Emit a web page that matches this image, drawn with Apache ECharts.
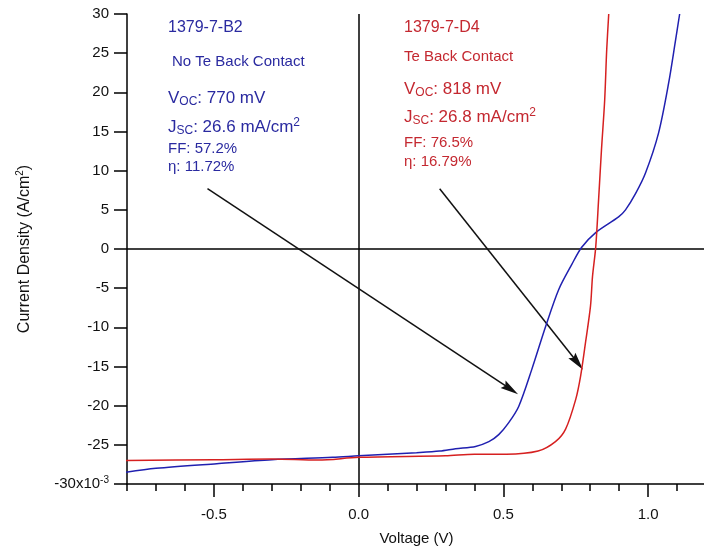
<!DOCTYPE html>
<html><head><meta charset="utf-8">
<script src="https://cdn.jsdelivr.net/npm/echarts@6/dist/echarts.min.js"></script>
<style>html,body{margin:0;padding:0;background:#fff}#c{width:704px;height:548px}</style>
</head><body><div id="c"></div>
<script>
// Voltage (V) and current density (x10^-3 A/cm^2)
const blueV = [-0.805,-0.70,-0.49,-0.30,-0.09,0.00,0.20,0.28,0.335,0.404,0.45,0.484,0.518,0.553,0.598,0.646,0.691,0.736,0.770,0.819,0.898,0.922,0.957,0.991,1.036,1.071,1.095,1.109];
const blueJ = [-28.5,-28.0,-27.4,-26.9,-26.6,-26.4,-26.0,-25.8,-25.5,-25.2,-24.6,-23.7,-22.2,-20.1,-15.4,-9.9,-5.2,-2.0,0.2,2.1,4.1,5.0,7.1,9.7,14.8,21.2,26.7,30];
const redV = [-0.805,-0.50,-0.30,-0.14,0.00,0.30,0.40,0.51,0.62,0.68,0.715,0.75,0.767,0.784,0.801,0.808,0.819,0.829,0.839,0.850,0.857,0.864];
const redJ = [-27.0,-26.9,-26.8,-26.95,-26.6,-26.4,-26.2,-26.2,-25.8,-24.6,-23.0,-19.2,-16.2,-11.9,-7.3,-3.5,0.2,6.3,12.7,19.0,25.4,30];
const xMajorTicks = [-0.5, 0, 0.5, 1.0];
// arrows: [startV, startJ, endV, endJ]
const blueArrow = [-0.522, 7.7, 0.525, -17.9];
const redArrow = [0.280, 7.7, 0.756, -14.5];

const FONT = 'Liberation Sans, Arial, sans-serif';
const BLUE_LINE = '#2020b0', RED_LINE = '#d62020';
const BLUE_TXT = '#2a2aa0', RED_TXT = '#c42830';

function zip(a,b){return a.map((v,i)=>[v,b[i]]);}
function arrowLine(a){
  return [{coord:[a[0],a[1]], symbol:'none'},{coord:[a[2],a[3]], symbol:'path://M5,0 L10,20 L5,17 L0,20 Z', symbolSize:[9,18]}];
}
const richSub = {
  m:{fontSize:17,fontFamily:FONT,lineHeight:20,verticalAlign:'middle'},
  sub:{fontSize:12,fontFamily:FONT,lineHeight:12,verticalAlign:'bottom'},
  sup:{fontSize:12,fontFamily:FONT,lineHeight:12,verticalAlign:'top'}
};
function txt(x,y,text,color,size,rich){
  const st = {text:text, fill:color, font: size+'px '+FONT, verticalAlign:'middle', align:'left'};
  if(rich){
    const r = {};
    for(const k in richSub){ r[k] = Object.assign({}, richSub[k], {fill:color}); }
    st.rich = r;
  }
  return {type:'text', x:x, y:y, style:st, z:100};
}

const chart = echarts.init(document.getElementById('c'));
chart.setOption({
  animation:false,
  backgroundColor:'#fff',
  grid:{left:127, top:14, width:579, height:470, containLabel:false, outerBoundsMode:'none'},
  xAxis:[{
    type:'value', min:-0.8, max:1.2, interval:0.1, position:'bottom',
    axisLine:{show:true,onZero:false,lineStyle:{color:'#000',width:1.5}},
    axisTick:{show:true,length:7,lineStyle:{color:'#000',width:1.5}},
    axisLabel:{show:false}, splitLine:{show:false},
    name:'Voltage (V)', nameLocation:'middle', nameGap:47,
    nameTextStyle:{fontFamily:FONT,fontSize:15,color:'#111'}
  },{
    type:'value', min:-0.8, max:1.2, position:'bottom',
    axisLine:{show:false,onZero:false},
    axisTick:{show:true,length:13,customValues:xMajorTicks,lineStyle:{color:'#000',width:1.5}},
    axisLabel:{show:true,customValues:xMajorTicks,margin:23,fontFamily:FONT,fontSize:15,color:'#111',
      formatter:v=>v.toFixed(1)},
    splitLine:{show:false}
  }],
  yAxis:[{
    type:'value', min:-30, max:30, interval:5,
    axisLine:{show:true,onZero:false,lineStyle:{color:'#000',width:1.5}},
    axisTick:{show:true,length:13,lineStyle:{color:'#000',width:1.5}},
    axisLabel:{margin:18,fontFamily:FONT,fontSize:15,color:'#111',
      formatter:v=> v===-30 ? '{m|-30x10}{s|-3}' : String(v),
      rich:{m:{fontFamily:FONT,fontSize:15,color:'#111',lineHeight:18,verticalAlign:'middle'},
            s:{fontFamily:FONT,fontSize:10,color:'#111',lineHeight:10,verticalAlign:'top'}}},
    splitLine:{show:false},
    name:'{m|Current Density (A/cm}{s|2}{m|)}', nameLocation:'middle', nameGap:92, nameRotate:90,
    nameTextStyle:{rich:{m:{fontFamily:FONT,fontSize:16,color:'#111',lineHeight:20,verticalAlign:'middle'},
                         s:{fontFamily:FONT,fontSize:10,color:'#111',lineHeight:10,verticalAlign:'top'}}}
  }],
  series:[{
    type:'line', name:'1379-7-B2', data:zip(blueV,blueJ), showSymbol:false, smooth:0.3, clip:true,
    lineStyle:{color:BLUE_LINE,width:1.5}, itemStyle:{color:BLUE_LINE}, z:5,
    markLine:{silent:true, animation:false, label:{show:false}, symbol:['none','none'],
      lineStyle:{color:'#000',width:1.5,type:'solid'},
      emphasis:{disabled:true},
      data:[{xAxis:0},{yAxis:0}]}
  },{
    type:'line', name:'1379-7-D4', data:zip(redV,redJ), showSymbol:false, smooth:0.3, clip:true,
    lineStyle:{color:RED_LINE,width:1.5}, itemStyle:{color:RED_LINE}, z:6,
    markLine:{silent:true, animation:false, label:{show:false},
      lineStyle:{color:'#111',width:1.5,type:'solid'},
      emphasis:{disabled:true},
      data:[arrowLine(blueArrow), arrowLine(redArrow)]}
  }],
  graphic:[
    txt(168,28,'1379-7-B2',BLUE_TXT,16),
    txt(172,62,'No Te Back Contact',BLUE_TXT,15),
    txt(168,98,'{m|V}{sub|OC}{m|: 770 mV}',BLUE_TXT,17,true),
    txt(168,127,'{m|J}{sub|SC}{m|: 26.6 mA/cm}{sup|2}',BLUE_TXT,17,true),
    txt(168,149,'FF: 57.2%',BLUE_TXT,15),
    txt(168,167,'η: 11.72%',BLUE_TXT,15),
    txt(404,28,'1379-7-D4',RED_TXT,16),
    txt(404,57,'Te Back Contact',RED_TXT,15),
    txt(404,89,'{m|V}{sub|OC}{m|: 818 mV}',RED_TXT,17,true),
    txt(404,117,'{m|J}{sub|SC}{m|: 26.8 mA/cm}{sup|2}',RED_TXT,17,true),
    txt(404,143,'FF: 76.5%',RED_TXT,15),
    txt(404,162,'η: 16.79%',RED_TXT,15)
  ]
});
</script></body></html>
